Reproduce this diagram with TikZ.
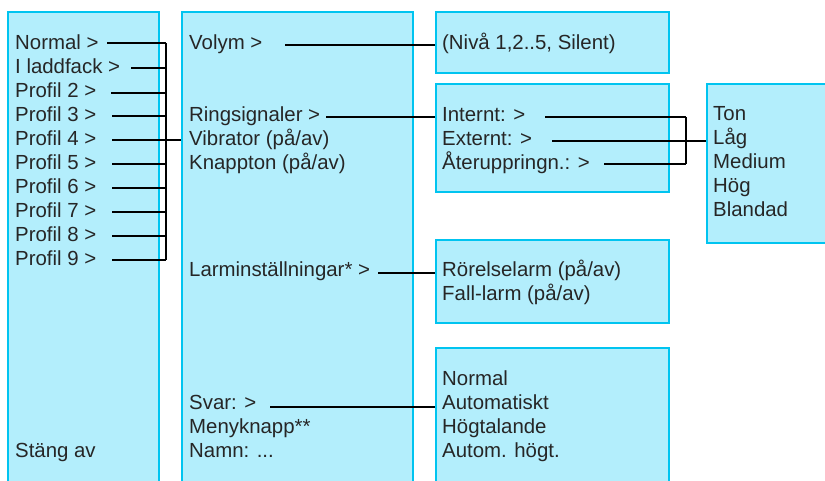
\documentclass[tikz,border=0pt]{standalone}
\usepackage{fontspec}
\setmainfont{Liberation Sans}
\definecolor{boxfill}{HTML}{B3EEFC}
\definecolor{boxline}{HTML}{00C4F0}
\definecolor{txt}{HTML}{262626}
\begin{document}
\begin{tikzpicture}[x=1pt,y=-1pt,
  box/.style={draw=boxline,fill=boxfill,line width=2.2pt,anchor=north west,inner sep=0pt},
  lbl/.style={anchor=base west,inner sep=0pt,text=txt,font=\fontsize{20.4pt}{24pt}\selectfont},
  conn/.style={draw=black,line width=2pt}]
\useasboundingbox (0,0) rectangle (825,480);
\clip (0,0) rectangle (825,480);
% boxes
\node[box,minimum width=151pt,minimum height=489pt] (b1) at (7,11) {};
\node[box,minimum width=231pt,minimum height=489pt] (b2) at (181,11) {};
\node[box,minimum width=233pt,minimum height=61pt] (b3) at (435,11) {};
\node[box,minimum width=233pt,minimum height=108pt] (b4) at (435,83) {};
\node[box,minimum width=134pt,minimum height=159pt] (b5) at (706,83) {};
\node[box,minimum width=233pt,minimum height=83pt] (b6) at (435,239) {};
\node[box,minimum width=233pt,minimum height=153pt] (b7) at (435,347) {};
% column 1 texts
\node[lbl] (p0) at (15,49.3) {Normal >};
\node[lbl] (p1) at (15,73.3) {I laddfack >};
\node[lbl] (p2) at (15,97.3) {Profil 2 >};
\node[lbl] (p3) at (15,121.3) {Profil 3 >};
\node[lbl] (p4) at (15,145.3) {Profil 4 >};
\node[lbl] (p5) at (15,169.3) {Profil 5 >};
\node[lbl] (p6) at (15,193.3) {Profil 6 >};
\node[lbl] (p7) at (15,217.3) {Profil 7 >};
\node[lbl] (p8) at (15,241.3) {Profil 8 >};
\node[lbl] (p9) at (15,265.3) {Profil 9 >};
\node[lbl] (stang) at (15,457.5) {Stäng av};
% column 2 texts
\node[lbl] (volym) at (189,49.3) {Volym >};
\node[lbl] (ring) at (189,121.3) {Ringsignaler >};
\node[lbl] (vib) at (189,145.3) {Vibrator (på/av)};
\node[lbl] (knapp) at (189,169.3) {Knappton (på/av)};
\node[lbl] (larm) at (189,276.5) {Larminställningar* >};
\node[lbl] (svar) at (189,409.5) {Svar: >};
\node[lbl] (meny) at (189,433.5) {Menyknapp**};
\node[lbl] (namn) at (189,457.5) {Namn: ...};
% column 3 texts
\node[lbl] (niva) at (442,49.3) {(Nivå 1,2..5, Silent)};
\node[lbl] (intern) at (442,121) {Internt: >};
\node[lbl] (extern) at (442,145) {Externt: >};
\node[lbl] (ater) at (442,169) {Återuppringn.: >};
\node[lbl] (rorel) at (442,276.7) {Rörelselarm (på/av)};
\node[lbl] (fall) at (442,300.7) {Fall-larm (på/av)};
\node[lbl] (n1) at (442,385.5) {Normal};
\node[lbl] (n2) at (442,409.5) {Automatiskt};
\node[lbl] (n3) at (442,433.5) {Högtalande};
\node[lbl] (n4) at (442,457.5) {Autom. högt.};
% column 4 texts
\node[lbl] (ton) at (713,120.7) {Ton};
\node[lbl] (lag) at (713,144.7) {Låg};
\node[lbl] (med) at (713,168.7) {Medium};
\node[lbl] (hog) at (713,192.7) {Hög};
\node[lbl] (bland) at (713,216.7) {Blandad};
% connector start points
\coordinate (s0) at (107,43.3);
\coordinate (s1) at (131,68);
\coordinate (s2) at (111,92.5);
\coordinate (s3) at (112,115.7);
\coordinate (s4) at (112,140);
\coordinate (s5) at (112,163.7);
\coordinate (s6) at (112,187.7);
\coordinate (s7) at (112,211.7);
\coordinate (s8) at (112,235.7);
\coordinate (s9) at (112,259.5);
\coordinate (br1) at (166,0);
\coordinate (sv) at (285,45);
\coordinate (sr) at (326,116.7);
\coordinate (sl) at (378,273);
\coordinate (ss) at (270,406.7);
\coordinate (si) at (545,117);
\coordinate (se) at (552,140.7);
\coordinate (sa) at (604,163.7);
\coordinate (br2) at (686,0);
% bracket 1
\foreach \i in {0,1,2,3,5,6,7,8,9} {\draw[conn] (s\i) -- (s\i -| br1);}
\draw[conn] (s0 -| br1) -- (s9 -| br1);
\draw[conn] (s4) -- (s4 -| b2.west);
% column 2 connectors
\draw[conn] (sv) -- (sv -| b3.west);
\draw[conn] (sr) -- (sr -| b4.west);
\draw[conn] (sl) -- (sl -| b6.west);
\draw[conn] (ss) -- (ss -| b7.west);
% bracket 2
\draw[conn] (si) -- (si -| br2);
\draw[conn] (sa) -- (sa -| br2);
\draw[conn] (si -| br2) -- (sa -| br2);
\draw[conn] (se) -- (se -| b5.west);
\end{tikzpicture}
\end{document}
